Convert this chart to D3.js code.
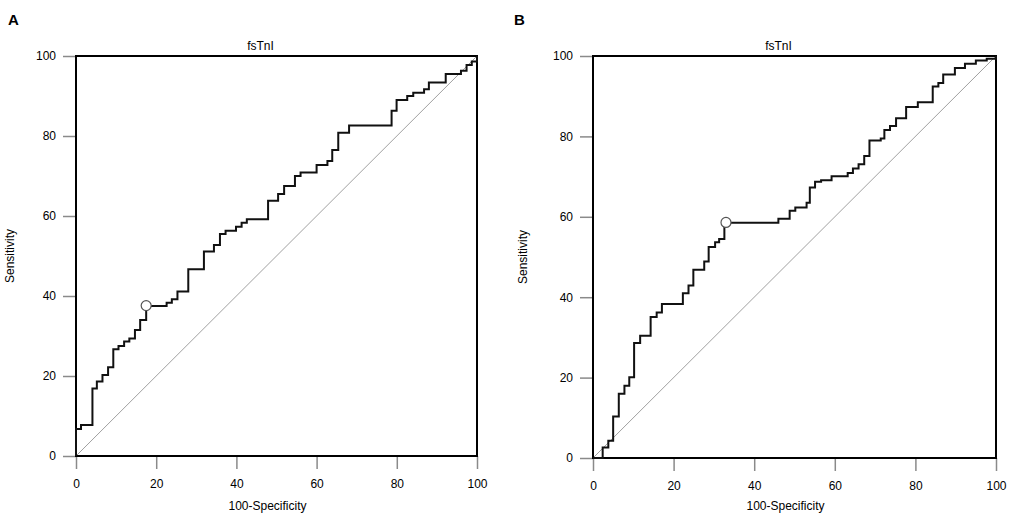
<!DOCTYPE html>
<html>
<head>
<meta charset="utf-8">
<script src="https://cdn.jsdelivr.net/npm/d3@7"></script>
<style>
  body { margin: 0; background: #fff; }
  svg text { font-family: "Liberation Sans", Arial, sans-serif; fill: #000; }
  .tick line { stroke: #8a8a8a; stroke-width: 1.5; }
  .tick text { font-size: 12px; }
</style>
</head>
<body>
<svg id="chart" width="1013" height="521"></svg>
<script>
// ROC steps (100-specificity, sensitivity)
var fprA = [0, 0, 1.25, 4.1, 5.2, 6.6, 8.0, 9.3, 10.6, 12, 13.3, 14.7, 16, 17.5, 22.6, 23.9, 25.3, 28, 31.9, 34.4, 35.9, 37.3, 39.9, 41.3, 42.6, 47.9, 50.4, 51.9, 54.6, 56, 60, 62.7, 63.9, 65.4, 68.1, 78.7, 79.95, 82.6, 84.1, 86.8, 88, 92.2, 96, 97.4, 98.7, 100];
var tprA = [0, 6.75, 7.75, 16.9, 18.6, 20.25, 22.2, 26.7, 27.5, 28.6, 29.4, 31.5, 34, 37.5, 38.3, 39.2, 41.1, 46.7, 51.1, 52.75, 55.5, 56.3, 57.3, 58.3, 59.2, 63.8, 65.5, 67.5, 70, 70.9, 72.75, 73.75, 76.5, 80.8, 82.6, 86.3, 89, 90, 90.8, 91.7, 93.4, 95.5, 96.3, 97.75, 98.6, 100];
var cutA = [17.5, 37.6];

var fprB = [0, 2.4, 3.8, 5.0, 6.4, 7.8, 9.0, 10.2, 11.7, 14.3, 15.8, 17.1, 22.3, 23.7, 24.9, 27.6, 28.7, 30.3, 31.3, 32.6, 46, 48.8, 50.2, 53, 53.8, 55.1, 56.6, 59.2, 63.2, 64.5, 65.9, 67.3, 68.6, 71.4, 72.3, 73.7, 75.2, 77.7, 80.6, 84.3, 85.7, 86.9, 89.8, 92.3, 95, 97.7, 100];
var tprB = [0, 2.6, 4.3, 10.3, 16, 18, 20.1, 28.6, 30.4, 35.1, 36.2, 38.3, 41, 42.9, 46.8, 48.9, 52.5, 53.7, 54.5, 58.5, 59.5, 61.5, 62.3, 63.5, 67.3, 68.7, 69.1, 70.1, 70.9, 72, 73.1, 75.1, 79, 79.5, 81.6, 82.6, 84.5, 87.3, 88.5, 92.4, 93.3, 95.4, 97, 98.1, 98.9, 99.3, 100];
var cutB = [33, 58.6];

var tickVals = [0, 20, 40, 60, 80, 100];
var chartTitle = "fsTnI";
var xLabel = "100-Specificity";
var yLabel = "Sensitivity";

var svg = d3.select("#chart");

function drawPanel(letter, fpr, tpr, cut, left, right, bottom, letterX, yLabX){
    var top = 56;
    var x = d3.scaleLinear().domain([0, 100]).range([left, right]);
    var y = d3.scaleLinear().domain([0, 100]).range([bottom, top]);
    var g = svg.append("g");

    // ticks
    g.append("g")
        .attr("transform", "translate(0," + bottom + ")")
        .call(d3.axisBottom(x).tickValues(tickVals).tickSize(13).tickPadding(10))
        .call(a => a.select(".domain").remove());
    g.append("g")
        .attr("transform", "translate(" + left + ",0)")
        .call(d3.axisLeft(y).tickValues(tickVals).tickSize(13).tickPadding(7))
        .call(a => a.select(".domain").remove());

    // diagonal
    g.append("line")
        .attr("x1", x(0)).attr("y1", y(0))
        .attr("x2", x(100)).attr("y2", y(100))
        .attr("stroke", "#a0a0a0")
        .attr("stroke-width", 1);

    // box
    g.append("rect")
        .attr("x", left).attr("y", top)
        .attr("width", right - left).attr("height", bottom - top)
        .attr("fill", "none")
        .attr("stroke", "#000")
        .attr("stroke-width", 2);

    // roc curve
    var pts = fpr.map((d, i) => [d, tpr[i]]);
    var line = d3.line()
        .x(d => x(d[0]))
        .y(d => y(d[1]))
        .curve(d3.curveStepAfter);
    g.append("path")
        .datum(pts)
        .attr("d", line)
        .attr("fill", "none")
        .attr("stroke", "#111")
        .attr("stroke-width", 2);

    g.append("circle")
        .attr("cx", x(cut[0]))
        .attr("cy", y(cut[1]))
        .attr("r", 5)
        .attr("fill", "#fff")
        .attr("stroke", "#555")
        .attr("stroke-width", 1.2);

    var mid = (left + right) / 2;
    g.append("text")
        .attr("x", mid - 16).attr("y", 50)
        .attr("text-anchor", "middle")
        .attr("font-size", "12px")
        .text(chartTitle);
    g.append("text")
        .attr("x", mid - 9).attr("y", 510)
        .attr("text-anchor", "middle")
        .attr("font-size", "12px")
        .text(xLabel);
    g.append("text")
        .attr("transform", "translate(" + yLabX + "," + ((top + bottom) / 2) + ") rotate(-90)")
        .attr("dy", "0.35em")
        .attr("text-anchor", "middle")
        .attr("font-size", "12px")
        .text(yLabel);
    g.append("text")
        .attr("x", letterX).attr("y", 25)
        .attr("font-size", "15px")
        .attr("font-weight", "bold")
        .text(letter);
}

drawPanel("A", fprA, tprA, cutA, 76, 477, 456, 8, 10);
drawPanel("B", fprB, tprB, cutB, 593, 996, 458, 514, 523);
</script>
</body>
</html>
